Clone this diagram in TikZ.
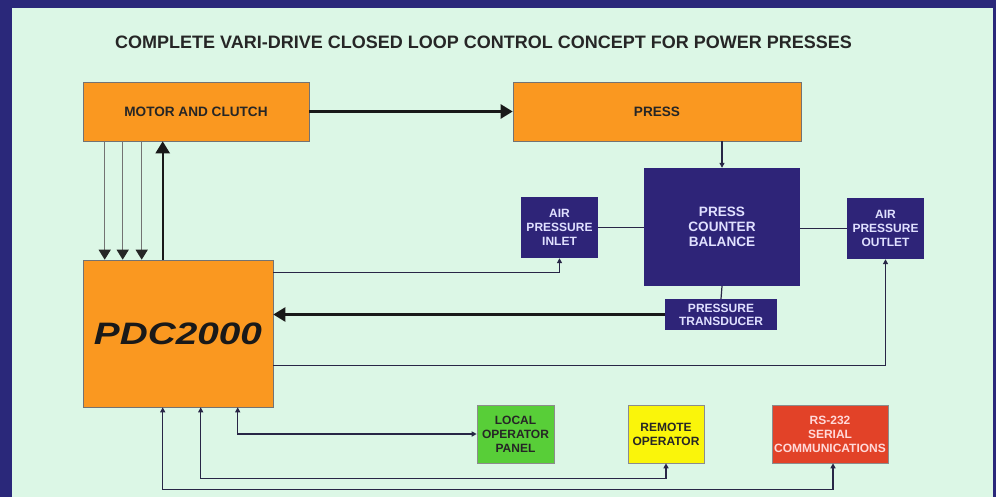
\documentclass[tikz,border=0pt]{standalone}
\usepackage{fontspec}
\usepackage{graphicx}
\setmainfont{Liberation Sans}
\usetikzlibrary{arrows.meta}
\definecolor{frameblue}{RGB}{42,40,122}
\definecolor{panelgreen}{RGB}{220,247,230}
\definecolor{boxorange}{RGB}{250,152,32}
\definecolor{boxblue}{RGB}{46,36,120}
\definecolor{boxgreen}{RGB}{88,206,56}
\definecolor{boxyellow}{RGB}{250,245,10}
\definecolor{boxred}{RGB}{226,66,40}
\definecolor{wire}{RGB}{40,38,70}

\begin{document}
\begin{tikzpicture}[x=1pt, y=-1pt,
    every node/.style={rectangle, align=center, inner sep=0pt},
    bigfont/.style={font=\bfseries\fontsize{13.6}{15}\selectfont},
    smallfont/.style={font=\bfseries\fontsize{12}{14}\selectfont},
    orangebox/.style={draw=black!55, line width=0.6pt, fill=boxorange, text=black!85},
    bluebox/.style={fill=boxblue, text=white!88!blue},
    colbox/.style={draw=black!45, line width=0.6pt, smallfont},
    wired/.style={draw=wire, line width=1.2pt},
    smalltip/.style={-{Triangle[length=5pt,width=5pt]}},
    heavy/.style={draw=black!90, line width=2.4pt, -{Triangle[length=12pt,width=14pt]}},
    feed/.style={draw=black!55, line width=1.4pt, -{Triangle[length=10pt,width=12pt,fill=black!85,color=black!85]}}]
    % Frame
    \fill[frameblue] (0,0) rectangle (996,497);
    \fill[panelgreen] (12,8) rectangle (993,497);
    \node[font=\bfseries\fontsize{18}{20}\selectfont, text=black!85] (title) at (483.5,42)
        {COMPLETE VARI-DRIVE CLOSED LOOP CONTROL CONCEPT FOR POWER PRESSES};

    % Top row
    \node[orangebox, bigfont, minimum width=226, minimum height=59] (motor) at (196,111.5) {MOTOR AND CLUTCH};
    \node[orangebox, bigfont, minimum width=288, minimum height=59] (press) at (657,111.5) {PRESS};

    % Counter balance group
    \node[bluebox, bigfont, minimum width=156, minimum height=118] (balance) at (722,227) {PRESS\\COUNTER\\BALANCE};
    \node[bluebox, smallfont, minimum width=77, minimum height=61] (inlet) at (559.5,227.5) {AIR\\PRESSURE\\INLET};
    \node[bluebox, smallfont, minimum width=77, minimum height=61] (outlet) at (885.5,228.5) {AIR\\PRESSURE\\OUTLET};
    \node[bluebox, font=\bfseries\fontsize{12}{13}\selectfont, minimum width=112, minimum height=31] (transducer) at (721,314.5) {PRESSURE\\TRANSDUCER};

    % Controller
    \node[orangebox, font=\bfseries\itshape\fontsize{31}{31}\selectfont, text=black!90,
        minimum width=190, minimum height=147] (pdc) at (178,333.5) {\scalebox{1.25}[1]{PDC2000}};

    % Operator row
    \node[colbox, fill=boxgreen, text=black!85, minimum width=77, minimum height=58] (local) at (515.5,434) {LOCAL\\OPERATOR\\PANEL};
    \node[colbox, fill=boxyellow, text=black!85, minimum width=76, minimum height=58] (remote) at (666,434) {REMOTE\\OPERATOR};
    \node[colbox, fill=boxred, text=white!85!red, minimum width=116, minimum height=58] (serial) at (830,434) {RS-232\\SERIAL\\COMMUNICATIONS};

    \draw[heavy] (motor.east) -- (motor.east -| press.west);
    \draw[wired, smalltip] (press.south -| balance.north) -- (balance.north);
    \draw[wired] (balance.south) -- (transducer.north);
    \draw[wired] (inlet.east) -- (inlet.east -| balance.west);
    \draw[wired] (balance.east |- outlet.west) -- (outlet.west);

    \draw[feed] ([xshift=22pt]motor.south west) -- ([xshift=22pt]pdc.north west);
    \draw[feed] ([xshift=40pt]motor.south west) -- ([xshift=40pt]pdc.north west);
    \draw[feed] ([xshift=59pt]motor.south west) -- ([xshift=59pt]pdc.north west);
    \draw[heavy] ([xshift=80pt]pdc.north west) -- ([xshift=80pt]motor.south west);

    \draw[wired, smalltip] ([yshift=-13pt]pdc.north east) -| (inlet.south);
    \draw[heavy] (transducer.west) -- (transducer.west -| pdc.east);
    \draw[wired, smalltip] ([yshift=42pt]pdc.south east) -| (outlet.south);

    \draw[wired, {Triangle[length=5pt,width=5pt]}-{Triangle[length=5pt,width=5pt]}]
        ([xshift=155pt]pdc.south west) |- (local.west);
    \draw[wired, {Triangle[length=5pt,width=5pt]}-{Triangle[length=5pt,width=5pt]}]
        ([xshift=118pt]pdc.south west) -- ++(0,71) -| (remote.south);
    \draw[wired, {Triangle[length=5pt,width=5pt]}-{Triangle[length=5pt,width=5pt]}]
        ([xshift=80pt]pdc.south west) -- ++(0,82) -| ([xshift=3pt]serial.south);
\end{tikzpicture}
\end{document}
